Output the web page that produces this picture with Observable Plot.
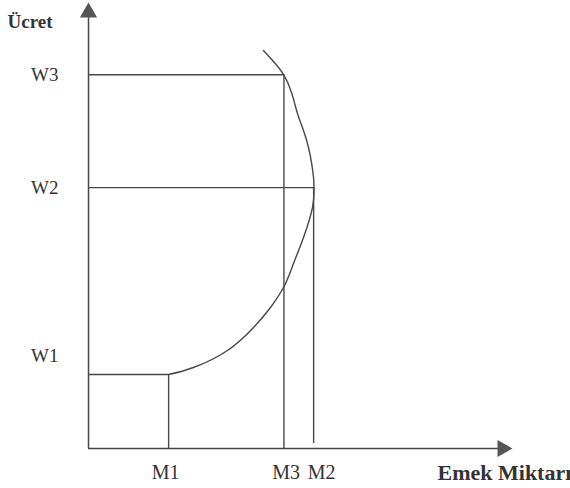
<!DOCTYPE html>
<html>
<head>
<meta charset="utf-8">
<script src="https://cdn.jsdelivr.net/npm/d3@7"></script>
<script src="https://cdn.jsdelivr.net/npm/@observablehq/plot@0.6"></script>
<style>
  html, body { margin: 0; padding: 0; background: #ffffff; overflow: hidden; }
  #chart svg { display: block; }
</style>
</head>
<body>
<div id="chart"></div>
<script>
// Labour quantities (x) and wage levels (y), in arbitrary units
const xCategories = ["M1", "M3", "M2"];
const xValues = [18.9, 46.1, 53.1];
const yCategories = ["W1", "W2", "W3"];
const yValues = [16.6, 58.5, 83.8];

// Backward-bending labour supply curve
const curveX = [18.87, 24.76, 32.78, 38.92, 42.92, 46.23, 48.35, 50.71, 52.83, 53.18, 53.07, 52.59, 51.89, 50.71, 49.29, 47.88, 45.99, 43.63, 41.27];
const curveY = [16.59, 18.16, 21.97, 27.13, 31.61, 36.55, 41.48, 47.31, 54.04, 58.52, 60.76, 64.13, 67.49, 71.30, 75.11, 79.82, 83.86, 86.77, 89.24];

const yAxisTitle = "Ücret";
const xAxisTitle = "Emek Miktarı";

const M = Object.fromEntries(xCategories.map((c, i) => [c, xValues[i]]));
const W = Object.fromEntries(yCategories.map((c, i) => [c, yValues[i]]));
const curve = curveX.map((x, i) => ({x, y: curveY[i]}));

// guide lines: each wage level to its quantity
const hLines = [
  {y: W.W1, x2: M.M1},
  {y: W.W2, x2: M.M2},
  {y: W.W3, x2: M.M3}
];
const vLines = [
  {x: M.M1, y1: 0, y2: W.W1},
  {x: M.M3, y1: 0, y2: W.W3},
  {x: M.M2, y1: 1.1, y2: W.W2}
];

const ink = "#484848";
const font = "'Liberation Serif', 'Times New Roman', serif";

const chart = Plot.plot({
  width: 570,
  height: 488,
  marginLeft: 88,
  marginRight: 58,
  marginTop: 2,
  marginBottom: 40,
  style: {fontFamily: font, background: "#ffffff", overflow: "visible"},
  x: {domain: [0, 100], axis: null},
  y: {domain: [0, 100], axis: null},
  marks: [
    // axes
    Plot.ruleY([0], {x1: 0, x2: 97, stroke: ink, strokeWidth: 1.5}),
    Plot.ruleX([0], {y1: 0, y2: 97, stroke: ink, strokeWidth: 1.5}),
    Plot.dot([{x: 0, y: 100}], {x: "x", y: "y", symbol: "triangle", r: 6.4, fill: "#555", stroke: null, dy: 10}),
    Plot.dot([{x: 100, y: 0}], {x: "x", y: "y", symbol: "triangle", r: 6.4, fill: "#555", stroke: null, rotate: 90, dx: -10}),
    // guides
    Plot.ruleY(hLines, {y: "y", x1: 0, x2: "x2", stroke: ink, strokeWidth: 1.4}),
    Plot.ruleX(vLines, {x: "x", y1: "y1", y2: "y2", stroke: ink, strokeWidth: 1.4}),
    // supply curve
    Plot.line(curve, {x: "x", y: "y", curve: "natural", stroke: ink, strokeWidth: 1.4}),
    // y labels (W2, W3 level with their lines)
    Plot.text(yCategories.slice(1).map((c, i) => ({c, y: yValues[i + 1]})), {
      x: 0, y: "y", text: "c", textAnchor: "end", dx: -30, fontSize: 19, fill: "#333"
    }),
    // W1 sits above its line
    Plot.text([{c: yCategories[0], y: yValues[0]}], {
      x: 0, y: "y", text: "c", textAnchor: "end", dx: -30, dy: -19, fontSize: 19, fill: "#333"
    }),
    // x labels
    Plot.text([{c: "M1", x: M.M1}], {x: "x", y: 0, text: "c", dy: 24, dx: -3, fontSize: 20, fill: "#333"}),
    Plot.text([{c: "M3", x: M.M3}], {x: "x", y: 0, text: "c", dy: 24, dx: 16, textAnchor: "end", fontSize: 20, fill: "#333"}),
    Plot.text([{c: "M2", x: M.M2}], {x: "x", y: 0, text: "c", dy: 24, dx: -6, textAnchor: "start", fontSize: 20, fill: "#333"}),
    // axis titles
    Plot.text([yAxisTitle], {x: 0, y: 100, text: d => d, dy: 19, dx: -81, textAnchor: "start", fontSize: 19, fontWeight: "bold", fill: "#333"}),
    Plot.text([xAxisTitle], {x: 100, y: 0, text: d => d, dy: 24, dx: -75, textAnchor: "start", fontSize: 22, fontWeight: "bold", fill: "#333"})
  ]
});

document.getElementById("chart").appendChild(chart);
</script>
</body>
</html>
